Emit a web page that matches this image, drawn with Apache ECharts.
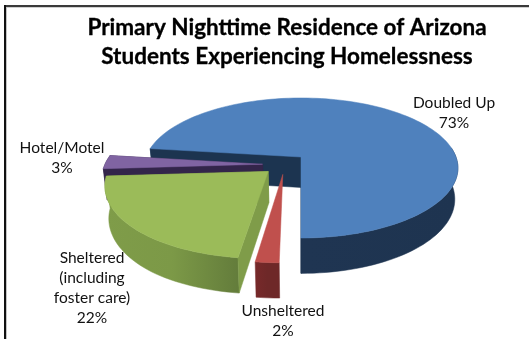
<!DOCTYPE html>
<html>
<head>
<meta charset="utf-8">
<style>html,body{margin:0;padding:0;background:#fff}#chart{width:529px;height:339px}</style>
<script src="https://cdn.jsdelivr.net/npm/echarts@6/dist/echarts.min.js"></script>
</head>
<body>
<div id="chart"></div>
<script>
const categories = ['Doubled Up', 'Unsheltered', 'Sheltered', 'Hotel/Motel'];
const percents = [73, 2, 22, 3];
const labelLines = [['Doubled Up'], ['Unsheltered'], ['Sheltered', '(including', 'foster care)'], ['Hotel/Motel']];
const titleLines = ['Primary Nighttime Residence of Arizona', 'Students Experiencing Homelessness'];

// Camera: the disc is a unit circle seen in perspective, clockwise angles from north.
// The lower rim sits slightly farther away, so it is drawn a little narrower.
const camera = { cx: 301, cy: 157, rx: 155, ry: 68.3, k: 0.157, depth: 30.5, depthGrow: 0.16, lowScale: 0.98 };
const firstAngle = 277.2;
const explode = [[0, 0], [-0.113, 0.245], [-0.205, 0.205], [-0.244, 0.104]];
const showCutFaces = [true, false, true, true];
const drawOrder = [1, 4, 3, 2];
const labelAnchors = [[454, 93], [283, 301], [92, 248], [62, 138]];
const palette = [
  { top: '#4f81bd', inner: '#1c3450', wall: ['#33527a', '#1f3552', '#1e3450'] },
  { top: '#c0504d', inner: '#8f3a38', wall: ['#77292a', '#6e2828', '#6e2828'] },
  { top: '#9bbb59', inner: '#7f9c49', wall: ['#7f9c49', '#7c9947', '#637c3b'] },
  { top: '#8064a2', inner: '#33254a', wall: ['#33254a', '#33254a', '#33254a'] }
];
const FONT = 'Lato, "Open Sans", sans-serif';

function project(x, y, low) {
  const w = 1 - camera.k * y;
  if (!low) return [camera.cx + camera.rx * x / w, camera.cy + camera.ry * y / w];
  const drop = camera.depth * (1 + camera.depthGrow * Math.max(-1, Math.min(1, y)));
  return [camera.cx + camera.lowScale * camera.rx * x / w, camera.cy + camera.ry * y / w + drop];
}

function arcPoints(start, end, ox, oy, low) {
  const pts = [];
  const steps = Math.max(4, Math.ceil((end - start) / 2));
  for (let i = 0; i <= steps; i++) {
    const a = (start + (end - start) * i / steps) * Math.PI / 180;
    pts.push(project(ox + Math.sin(a), oy - Math.cos(a), low));
  }
  return pts;
}

function wallFill(colors) {
  return new echarts.graphic.LinearGradient(0, 0, 1, 0, [
    { offset: 0, color: colors[0] }, { offset: 0.5, color: colors[1] }, { offset: 1, color: colors[2] }
  ]);
}

function renderSlice(params, api) {
  const i = params.dataIndex;
  const total = percents.reduce((a, b) => a + b, 0);
  let start = firstAngle;
  for (let j = 0; j < i; j++) start += api.value(0, j) / total * 360;
  const end = start + api.value(0) / total * 360;
  const [ox, oy] = explode[i];
  const c = palette[i];
  const topArc = arcPoints(start, end, ox, oy, false);
  const lowArc = arcPoints(start, end, ox, oy, true);
  const apex = project(ox, oy, false);
  const apexLow = project(ox, oy, true);
  const z = drawOrder[i] * 10;
  const poly = (points, fill, dz) => ({
    type: 'polygon', z2: z + dz, shape: { points },
    style: { fill, stroke: fill, lineWidth: 0.5 }
  });
  const first = topArc[0], last = topArc[topArc.length - 1];
  const firstLow = lowArc[0], lastLow = lowArc[lowArc.length - 1];
  const children = [];
  // Outer rim: only the part that faces the viewer (south half of the circle).
  const rimTop = [], rimLow = [];
  topArc.forEach((p, n) => {
    const a = ((start + (end - start) * n / (topArc.length - 1)) % 360 + 360) % 360;
    if (a > 82 && a < 278) { rimTop.push(p); rimLow.push(lowArc[n]); }
  });
  if (rimTop.length > 1) children.push(poly(rimTop.concat(rimLow.slice().reverse()), wallFill(c.wall), 1));
  // Radial cut faces
  if (showCutFaces[i]) {
    children.push(poly([apex, last, lastLow, apexLow], c.inner, 2));
    children.push(poly([apex, first, firstLow, apexLow], c.inner, 2));
  }
  // Top face
  children.push(poly([apex].concat(topArc), c.top, 3));
  return { type: 'group', children };
}

const labelElements = categories.map((name, i) => ({
  type: 'text', x: labelAnchors[i][0], y: labelAnchors[i][1],
  style: {
    text: labelLines[i].concat([percents[i] + '%']).join('\n'),
    font: '15.5px ' + FONT, lineHeight: 20, fill: '#111', align: 'center', verticalAlign: 'top'
  }
}));

// Sheet frame around the chart: dark rule with a pale inner edge.
const frame = [
  { type: 'rect', shape: { x: 4, y: 5, width: 525, height: 2 }, style: { fill: '#3a3a3a' } },
  { type: 'rect', shape: { x: 7, y: 7, width: 522, height: 1 }, style: { fill: '#d0d0d0' } },
  { type: 'rect', shape: { x: 4, y: 5, width: 2, height: 334 }, style: { fill: '#111' } },
  { type: 'rect', shape: { x: 6, y: 7, width: 1, height: 332 }, style: { fill: '#c4c4c4' } }
];

const chart = echarts.init(document.getElementById('chart'), null, { renderer: 'canvas' });
chart.setOption({
  animation: false,
  backgroundColor: '#fff',
  series: [{
    type: 'custom',
    coordinateSystem: 'none',
    renderItem: renderSlice,
    data: percents.map((v, i) => ({ name: categories[i], value: [v] }))
  }],
  graphic: frame.concat([
    { type: 'text', x: 287, y: 13, style: { text: titleLines.join('\n'), font: 'bold 22.5px ' + FONT, lineHeight: 29, fill: '#000', stroke: '#000', lineWidth: 0.3, align: 'center' } }
  ]).concat(labelElements)
});
</script>
</body>
</html>
